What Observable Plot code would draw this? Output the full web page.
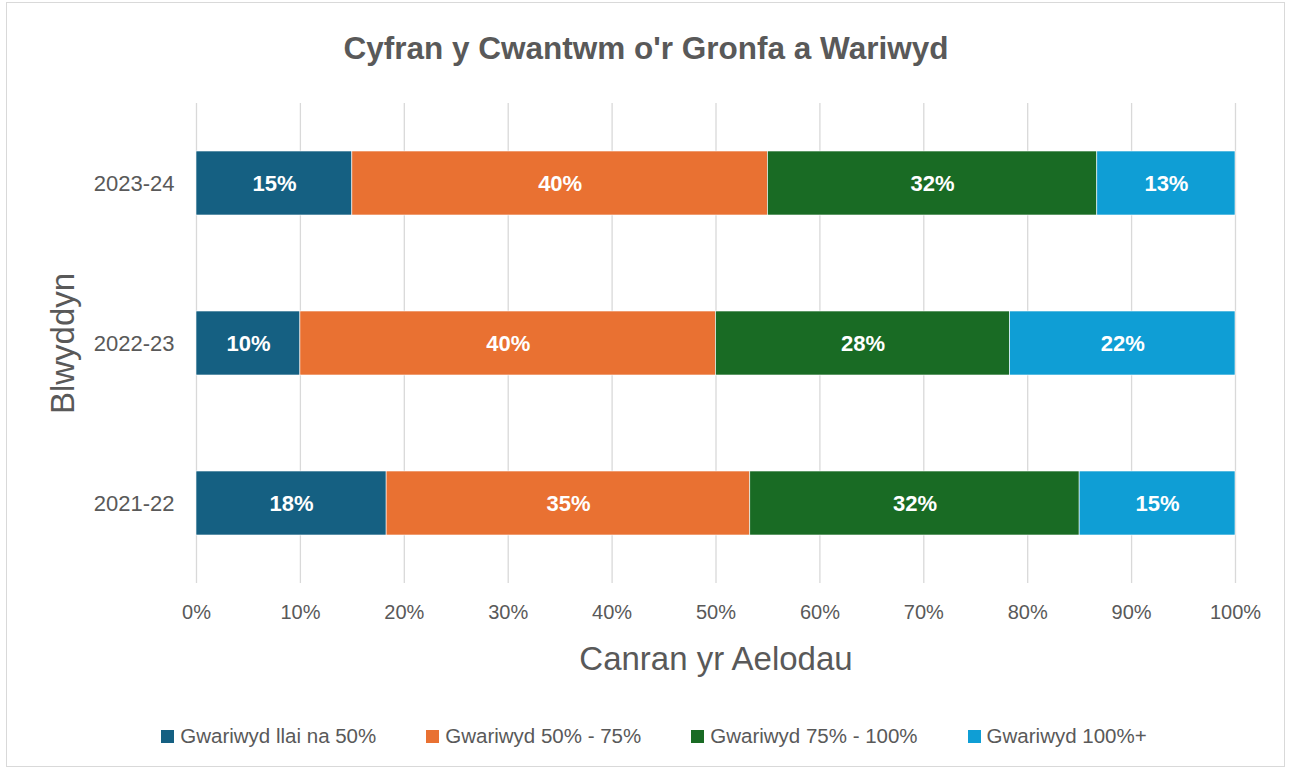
<!DOCTYPE html>
<html>
<head>
<meta charset="utf-8">
<script src="https://cdn.jsdelivr.net/npm/d3@7"></script>
<script src="https://cdn.jsdelivr.net/npm/@observablehq/plot@0.6"></script>
<style>
  html, body { margin: 0; padding: 0; background: #fff; }
  body { width: 1292px; height: 772px; position: relative; overflow: hidden; font-family: "Liberation Sans", Arial, sans-serif; }
  #frame { position: absolute; left: 6px; top: 2px; width: 1279px; height: 765px; border: 1px solid #d9d9d9; box-sizing: border-box; }
  #title { position: absolute; left: 0; top: 28px; width: 1292px; text-align: center; font-size: 31.5px; font-weight: bold; color: #595959; line-height: 40px; }
  #chart { position: absolute; left: 0; top: 0; }
  #legend { position: absolute; left: 8px; top: 722px; width: 1292px; display: flex; justify-content: center; gap: 50px; font-size: 20.5px; color: #595959; line-height: 28px; }
  .item { display: flex; align-items: center; gap: 6px; }
  .sw { width: 13px; height: 13px; display: inline-block; }
</style>
</head>
<body>
<div id="frame"></div>
<div id="title">Cyfran y Cwantwm o'r Gronfa a Wariwyd</div>
<div id="chart"></div>
<div id="legend"></div>
<script>
const years = ["2021-22", "2022-23", "2023-24"];
const categories = ["Gwariwyd llai na 50%", "Gwariwyd 50% - 75%", "Gwariwyd 75% - 100%", "Gwariwyd 100%+"];
const colors = ["#156082", "#E97132", "#196B24", "#0F9ED5"];
const less50 = [18.3, 10.0, 15.0];
const p50to75 = [35.0, 40.0, 40.0];
const p75to100 = [31.7, 28.3, 31.7];
const over100 = [15.0, 21.7, 13.3];
const xTicks = [0, 10, 20, 30, 40, 50, 60, 70, 80, 90, 100];

const series = [less50, p50to75, p75to100, over100];
const data = [];
years.forEach((y, i) => {
  categories.forEach((c, j) => {
    data.push({year: y, category: c, value: series[j][i] / 100});
  });
});

const chart = Plot.plot({
  width: 1292,
  height: 700,
  marginTop: 103,
  marginBottom: 117,
  marginLeft: 196,
  marginRight: 57,
  style: {fontFamily: "'Liberation Sans', Arial, sans-serif", fontSize: "20px", color: "#595959", background: "transparent"},
  x: {domain: [0, 1]},
  y: {domain: ["2023-24", "2022-23", "2021-22"], paddingInner: 0.6, paddingOuter: 0.3},
  color: {domain: categories, range: colors},
  marks: [
    Plot.gridX(xTicks.map(d => d / 100), {stroke: "#d9d9d9", strokeOpacity: 1, strokeWidth: 1.3}),
    Plot.barX(data, Plot.stackX({x: "value", y: "year", fill: "category", z: "category", stroke: "white", strokeWidth: 0.6})),
    Plot.text(data, Plot.stackX({x: "value", y: "year", z: "category", text: d => Math.round(d.value * 100) + "%", fill: "white", fontWeight: "bold", fontSize: 22})),
    Plot.axisX(xTicks.map(d => d / 100), {tickSize: 0, tickPadding: 21, tickFormat: d3.format(".0%"), label: null, fill: "#595959", fontSize: 20}),
    Plot.axisY({tickSize: 0, tickPadding: 22, label: null, fill: "#595959", fontSize: 22}),
    Plot.text(["Canran yr Aelodau"], {frameAnchor: "bottom", dy: 86, fontSize: 33, fill: "#595959"}),
    Plot.text(["Blwyddyn"], {frameAnchor: "left", dx: -133, rotate: -90, textAnchor: "middle", fontSize: 33, fill: "#595959"})
  ]
});
document.getElementById("chart").appendChild(chart);

const legend = document.getElementById("legend");
categories.forEach((c, i) => {
  const item = document.createElement("div");
  item.className = "item";
  const sw = document.createElement("span");
  sw.className = "sw";
  sw.style.background = colors[i];
  const t = document.createElement("span");
  t.textContent = c;
  item.appendChild(sw);
  item.appendChild(t);
  legend.appendChild(item);
});
</script>
</body>
</html>
